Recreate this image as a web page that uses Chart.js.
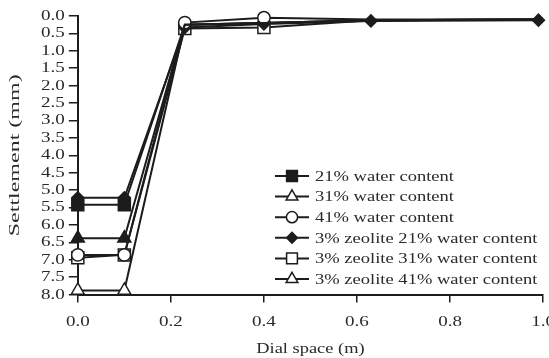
<!DOCTYPE html>
<html>
<head>
<meta charset="utf-8">
<script src="https://cdn.jsdelivr.net/npm/chart.js@4/dist/chart.umd.min.js"></script>
<style>
  html, body { margin: 0; padding: 0; background: #fff; overflow: hidden; }
  #wrap { width: 565px; height: 358px; }
</style>
</head>
<body>
<div id="wrap"><canvas id="c"></canvas></div>
<script>
// Dial space (m) at each reading
const dialSpace = [0, 0.1, 0.23, 0.4, 0.63, 0.99];

// Settlement (mm) per mix
const water21 = [5.42, 5.42, 0.25, 0.2, 0.12, 0.1];
const water31 = [6.38, 6.38, 0.25, 0.2, 0.12, 0.1];
const water41 = [6.86, 6.86, 0.19, 0.05, 0.1, 0.1];
const zeolite21 = [5.22, 5.22, 0.33, 0.23, 0.14, 0.12];
const zeolite31 = [6.94, 6.86, 0.36, 0.33, 0.12, 0.1];
const zeolite41 = [7.88, 7.88, 0.25, 0.2, 0.12, 0.1];

const seriesNames = [
  '21% water content',
  '31% water content',
  '41% water content',
  '3% zeolite 21% water content',
  '3% zeolite 31% water content',
  '3% zeolite 41% water content'
];
const seriesValues = [water21, water31, water41, zeolite21, zeolite31, zeolite41];

// Axis ticks
const settlementTicks = [0, 0.5, 1, 1.5, 2, 2.5, 3, 3.5, 4, 4.5, 5, 5.5, 6, 6.5, 7, 7.5, 8];
const dialTicks = [0, 0.2, 0.4, 0.6, 0.8, 1.0];

const xTitle = 'Dial space (m)';
const yTitle = 'Settlement (mm)';

// Marker styling per series
const INK = '#1c1c1c';
const TEXT = '#2a2a2a';
const markerStyles = [
  { pointStyle: 'rect',     radius: 8.5, fill: INK,    legendFill: INK,    shown: 2 },
  { pointStyle: 'triangle', radius: 7.5, fill: INK,    legendFill: '#fff', shown: 2 },
  { pointStyle: 'circle',   radius: 6.2, fill: '#fff', legendFill: '#fff', shown: 4 },
  { pointStyle: 'rectRot',  radius: 6,   fill: INK,    legendFill: INK,    shown: 6 },
  { pointStyle: 'rect',     radius: 8.5, fill: '#fff', legendFill: '#fff', shown: 4 },
  { pointStyle: 'triangle', radius: 7.5, fill: '#fff', legendFill: '#fff', shown: 2 }
];

const FONT = "'Liberation Serif', 'Times New Roman', serif";

// Labels are set in a wide, expanded serif
const canvas = document.getElementById('c');
const g = canvas.getContext('2d');
const baseFill = g.fillText.bind(g);
const baseMeasure = g.measureText.bind(g);
const widen = t => (t === yTitle ? 1.6 : 1.27);
g.fillText = function (t, x, y) {
  const k = widen(t);
  this.save();
  this.translate(x, y);
  this.scale(k, 1);
  baseFill(t, 0, 0);
  this.restore();
};
g.measureText = function (t) {
  const m = baseMeasure(t);
  const k = widen(t);
  return {
    width: m.width * k,
    actualBoundingBoxAscent: m.actualBoundingBoxAscent,
    actualBoundingBoxDescent: m.actualBoundingBoxDescent,
    actualBoundingBoxLeft: m.actualBoundingBoxLeft * k,
    actualBoundingBoxRight: m.actualBoundingBoxRight * k,
    fontBoundingBoxAscent: m.fontBoundingBoxAscent,
    fontBoundingBoxDescent: m.fontBoundingBoxDescent
  };
};

const datasets = seriesValues.map((vals, i) => {
  const st = markerStyles[i];
  return {
    label: seriesNames[i],
    data: vals.map((v, j) => ({ x: dialSpace[j], y: v })),
    showLine: true,
    borderColor: INK,
    borderWidth: 2,
    tension: 0,
    pointStyle: st.pointStyle,
    pointRadius: vals.map((v, j) => (j < st.shown ? st.radius : 0)),
    pointBackgroundColor: st.fill,
    pointBorderColor: INK,
    pointBorderWidth: 1.5,
    clip: false
  };
});

// Legend drawn inside the plot, lower right
const LEG = { x0: 275, x1: 309, tx: 315, top: 176, gap: 20.6 };
const insetLegend = {
  id: 'insetLegend',
  afterDraw(chart) {
    const ctx = chart.ctx;
    ctx.save();
    ctx.font = "14.6px " + FONT;
    ctx.textAlign = 'left';
    ctx.textBaseline = 'middle';
    seriesNames.forEach((name, i) => {
      const y = LEG.top + i * LEG.gap;
      const st = markerStyles[i];
      ctx.strokeStyle = INK;
      ctx.lineWidth = 2;
      ctx.beginPath();
      ctx.moveTo(LEG.x0, y);
      ctx.lineTo(LEG.x1, y);
      ctx.stroke();
      ctx.fillStyle = st.legendFill;
      ctx.lineWidth = 1.5;
      Chart.helpers.drawPoint(ctx, {
        pointStyle: st.pointStyle, radius: st.radius * 0.9, rotation: 0, borderWidth: 1.5
      }, (LEG.x0 + LEG.x1) / 2, y);
      ctx.fillStyle = TEXT;
      ctx.fillText(name, LEG.tx, y + 1);
    });
    ctx.restore();
  }
};

new Chart(canvas, {
  type: 'scatter',
  data: { datasets },
  plugins: [insetLegend],
  options: {
    responsive: true,
    maintainAspectRatio: false,
    animation: false,
    events: [],
    layout: { padding: { top: 16, left: 6, right: 0, bottom: 0 } },
    plugins: { legend: { display: false }, tooltip: { enabled: false } },
    scales: {
      x: {
        type: 'linear',
        min: 0,
        max: 1,
        afterBuildTicks: ax => { ax.ticks = dialTicks.map(v => ({ value: v })); },
        grid: { drawOnChartArea: false, tickLength: 8, color: INK, lineWidth: 1.5 },
        border: { color: INK, width: 2 },
        ticks: {
          color: TEXT, font: { family: FONT, size: 15 }, padding: 10,
          maxRotation: 0, autoSkip: false, callback: v => Number(v).toFixed(1)
        },
        title: {
          display: true, text: xTitle, color: TEXT,
          font: { family: FONT, size: 14.5 }, padding: { top: 0, bottom: 0 }
        }
      },
      y: {
        type: 'linear',
        reverse: true,
        min: 0,
        max: 8,
        afterBuildTicks: ax => { ax.ticks = settlementTicks.map(v => ({ value: v })); },
        grid: { drawOnChartArea: false, tickLength: 9, color: INK, lineWidth: 1.5 },
        border: { color: INK, width: 2 },
        ticks: {
          color: TEXT, font: { family: FONT, size: 15, lineHeight: 0.05 }, padding: 4,
          autoSkip: false, callback: v => Number(v).toFixed(1)
        },
        title: {
          display: true, text: yTitle, color: TEXT,
          font: { family: FONT, size: 15 }, padding: { top: 0, bottom: 13 }
        }
      }
    }
  }
});
</script>
</body>
</html>
